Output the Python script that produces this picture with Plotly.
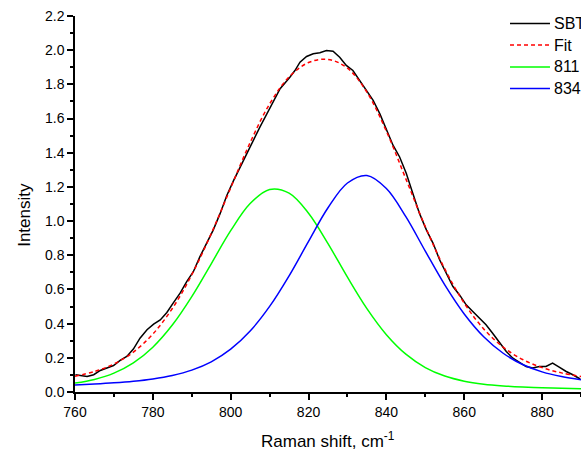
import plotly.graph_objects as go

# ---- data ----
sbt_x = [760.1, 761.4, 763.1, 764.8, 766.5, 768.2, 769.9, 771.6, 773.3, 775.0,
         776.7, 778.5, 780.2, 781.9, 783.6, 785.3, 787.0, 788.7, 790.4, 792.1,
         793.8, 795.5, 797.3, 799.0, 800.7, 802.4, 805.0, 807.5, 810.1, 812.7,
         815.2, 816.5, 817.8, 819.5, 821.2, 822.9, 824.6, 826.3, 828.0, 829.7,
         831.4, 833.2, 834.9, 836.6, 838.3, 840.0, 841.7, 843.4, 845.1, 846.8,
         848.5, 850.3, 852.0, 853.7, 855.4, 857.1, 858.8, 860.5, 862.2, 863.9,
         865.6, 867.3, 869.1, 870.8, 872.5, 874.2, 875.9, 877.6, 879.3, 881.0,
         882.7, 884.4, 886.2, 887.9, 889.8]
sbt_y = [0.101, 0.095, 0.091, 0.101, 0.126, 0.140, 0.155, 0.185, 0.208, 0.251,
         0.315, 0.364, 0.397, 0.422, 0.465, 0.523, 0.578, 0.646, 0.704, 0.792,
         0.870, 0.947, 1.045, 1.150, 1.235, 1.317, 1.434, 1.550, 1.667, 1.775,
         1.842, 1.881, 1.930, 1.963, 1.979, 1.985, 1.998, 1.994, 1.959, 1.911,
         1.881, 1.823, 1.765, 1.706, 1.629, 1.531, 1.444, 1.375, 1.280, 1.162,
         1.045, 0.947, 0.870, 0.772, 0.695, 0.617, 0.568, 0.510, 0.471, 0.432,
         0.393, 0.344, 0.286, 0.237, 0.198, 0.173, 0.149, 0.140, 0.149, 0.149,
         0.169, 0.146, 0.120, 0.101, 0.076]

comp_x = [760, 765, 770, 775, 780, 785, 790, 795, 800, 805, 810, 815, 820, 825,
          830, 835, 840, 845, 850, 855, 860, 865, 870, 875, 880, 885, 890]
peak811_y = [0.0519, 0.0736, 0.1105, 0.1705, 0.2623, 0.3916, 0.5581, 0.7502,
             0.9439, 1.1027, 1.1851, 1.1637, 1.0461, 0.8683, 0.6715, 0.4875,
             0.3352, 0.2213, 0.1431, 0.0934, 0.0635, 0.0460, 0.0357, 0.0292,
             0.0248, 0.0216, 0.0190]
peak834_y = [0.0404, 0.0462, 0.0534, 0.0630, 0.0766, 0.0968, 0.1280, 0.1766,
             0.2504, 0.3568, 0.5006, 0.6797, 0.8816, 1.0779, 1.2230, 1.2668,
             1.1907, 1.0258, 0.8241, 0.6265, 0.4565, 0.3233, 0.2267, 0.1608,
             0.1178, 0.0902, 0.0723]
fit_y = [0.0923, 0.1198, 0.1639, 0.2335, 0.3389, 0.4884, 0.6861, 0.9268,
         1.1943, 1.4595, 1.6857, 1.8434, 1.9277, 1.9462, 1.8945, 1.7543,
         1.5259, 1.2471, 0.9672, 0.7199, 0.5200, 0.3693, 0.2624, 0.1900,
         0.1426, 0.1118, 0.0913]

series_names = ["SBT", "Fit", "811", "834"]
x_ticks = [760, 780, 800, 820, 840, 860, 880]
y_ticks = [0.0, 0.2, 0.4, 0.6, 0.8, 1.0, 1.2, 1.4, 1.6, 1.8, 2.0, 2.2]

FONT = "Liberation Sans, Arial, sans-serif"
colors = ["#000000", "#ff0000", "#00ff00", "#0000ff"]
dashes = ["solid", "4px,3px", "solid", "solid"]

fig = go.Figure()
fig.add_trace(go.Scatter(x=sbt_x, y=sbt_y, mode="lines", name=series_names[0],
                         line=dict(color=colors[0], width=1.5)))
fig.add_trace(go.Scatter(x=comp_x, y=fit_y, mode="lines", name=series_names[1],
                         line=dict(color=colors[1], width=1.5, dash=dashes[1],
                                   shape="spline", smoothing=1)))
fig.add_trace(go.Scatter(x=comp_x, y=peak811_y, mode="lines", name=series_names[2],
                         line=dict(color=colors[2], width=1.5, shape="spline", smoothing=1)))
fig.add_trace(go.Scatter(x=comp_x, y=peak834_y, mode="lines", name=series_names[3],
                         line=dict(color=colors[3], width=1.5, shape="spline", smoothing=1)))

# legend drawn as key lines + labels in paper coordinates (as in the reference, it runs off the right edge)
legend_rows_y = [0.9798, 0.9227, 0.8646, 0.8072]
shapes = []
annotations = []
for name, col, dsh, yy in zip(series_names, colors, dashes, legend_rows_y):
    shapes.append(dict(type="line", xref="paper", yref="paper", x0=0.8597, x1=0.9387,
                       y0=yy, y1=yy, line=dict(color=col, width=1.5, dash=dsh)))
    annotations.append(dict(text=name, xref="paper", yref="paper", x=0.9427, y=yy,
                            xanchor="left", yanchor="middle", showarrow=False,
                            font=dict(family=FONT, size=16, color="#000000")))

annotations += [
    dict(text="Raman shift, cm<sup>-1</sup>", xref="paper", yref="paper",
         x=0.5, y=-0.128, xanchor="center", yanchor="middle", showarrow=False,
         font=dict(family=FONT, size=17, color="#000000")),
    dict(text="Intensity", xref="paper", yref="paper", textangle=-90,
         x=-0.099, y=0.471, xanchor="center", yanchor="middle", showarrow=False,
         font=dict(family=FONT, size=17, color="#000000")),
]

fig.update_layout(
    width=581, height=453,
    margin=dict(l=75, r=0, t=16, b=61, autoexpand=False),
    paper_bgcolor="white", plot_bgcolor="white",
    font=dict(family=FONT, size=14, color="#000000"),
    showlegend=False,
    shapes=shapes,
    annotations=annotations,
)
fig.update_xaxes(range=[760, 890], tickvals=x_ticks, ticktext=[str(v) for v in x_ticks],
                 showgrid=False, zeroline=False, showline=True, linecolor="#000000",
                 linewidth=1.5, ticks="outside", ticklen=6, tickwidth=1.5,
                 tickcolor="#000000",
                 minor=dict(dtick=10, tick0=760, ticks="outside", ticklen=3.5,
                            tickwidth=1.5, tickcolor="#000000", showgrid=False))
fig.update_yaxes(range=[0, 2.2], tickvals=y_ticks, ticktext=[f"{v:.1f}" for v in y_ticks],
                 showgrid=False, zeroline=False, showline=True, linecolor="#000000",
                 linewidth=1.5, ticks="outside", ticklen=6, tickwidth=1.5,
                 tickcolor="#000000",
                 minor=dict(dtick=0.1, tick0=0, ticks="outside", ticklen=3.5,
                            tickwidth=1.5, tickcolor="#000000", showgrid=False))

fig.write_html("out.html", config={"displayModeBar": False},
               post_script="document.body.style.margin='0px';document.body.style.padding='0px';")
